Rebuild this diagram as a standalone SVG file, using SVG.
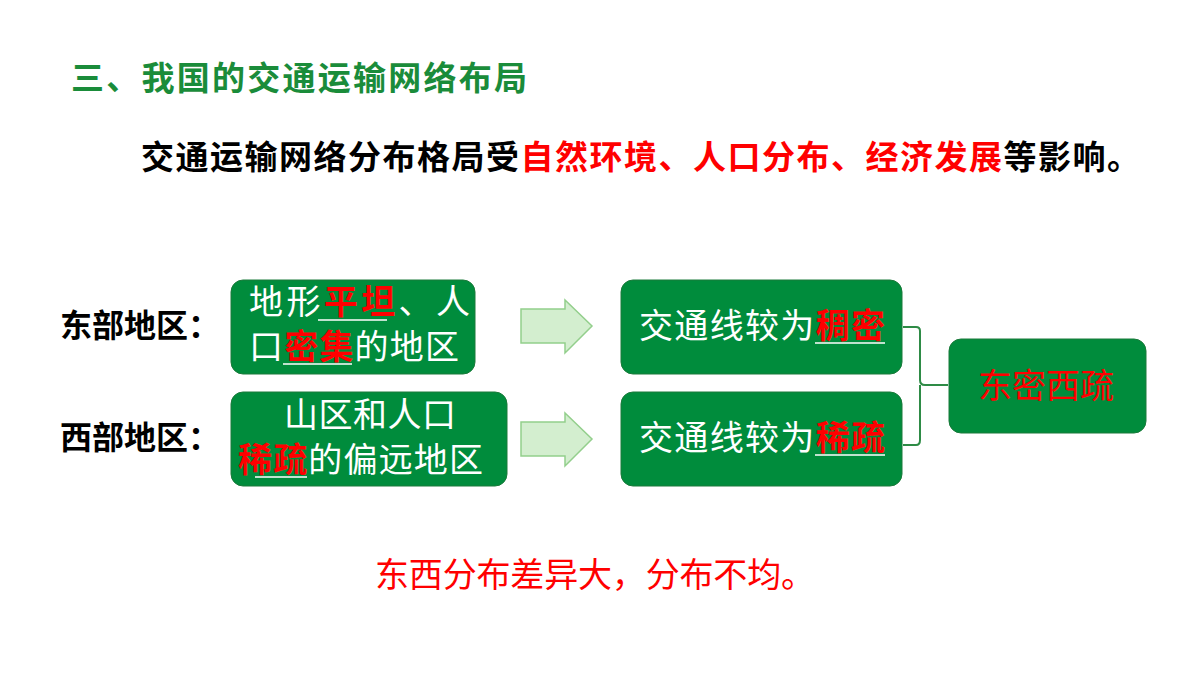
<svg xmlns="http://www.w3.org/2000/svg" width="1200" height="675" viewBox="0 0 1200 675">
<style>
text{font-family:"Noto Sans CJK SC",sans-serif}
.box{fill:#008C3C;stroke:#1a7a3a;stroke-width:1}
.w{fill:#fff;font-size:34px}
.r{fill:#f00}
.b{font-weight:bold}
.k{fill:#000;font-size:32px;font-weight:bold}
.ul{stroke:#fff;stroke-width:1.5}
.arr{fill:#d3eecf;stroke:#93cf8c;stroke-width:1.5}
</style>
<rect width="1200" height="675" fill="#fff"/>
<text x="71" y="90" font-size="33" font-weight="bold" textLength="456" fill="#1a8c3a">三、我国的交通运输网络布局</text>
<text x="141" y="169" font-size="33" font-weight="bold" textLength="999" fill="#000">交通运输网络分布格局受<tspan class="r">自然环境、人口分布、经济发展</tspan>等影响。</text>
<text x="60" y="337" class="k">东部地区：</text>
<text x="60" y="449" class="k">西部地区：</text>
<g id="n1"><rect class="box" x="231" y="280" width="244" height="94" rx="12"/>
<text class="w" x="249" y="314" font-size="32" textLength="221">地形<tspan class="r b">平坦</tspan>、人</text>
<text class="w" x="249" y="359" font-size="32" textLength="210">口<tspan class="r b">密集</tspan>的地区</text>
<line class="ul" x1="318" y1="320" x2="387" y2="320"/><line class="ul" x1="283" y1="364" x2="352" y2="364"/></g>
<g id="n2"><rect class="box" x="231" y="392" width="276" height="94" rx="12"/>
<text class="w" x="284" y="427" font-size="32" textLength="172">山区和人口</text>
<text class="w" x="238" y="472" font-size="32" textLength="245"><tspan class="r b">稀疏</tspan>的偏远地区</text>
<line class="ul" x1="255" y1="477" x2="307" y2="477"/></g>
<g id="n3"><rect class="box" x="621" y="280" width="281" height="94" rx="12"/>
<text class="w" x="639" y="338" textLength="246">交通线较为<tspan class="r b">稠密</tspan></text>
<line class="ul" x1="815" y1="343" x2="885" y2="343"/></g>
<g id="n4"><rect class="box" x="621" y="392" width="281" height="94" rx="12"/>
<text class="w" x="639" y="450" textLength="246">交通线较为<tspan class="r b">稀疏</tspan></text>
<line class="ul" x1="815" y1="455" x2="885" y2="455"/></g>
<g id="n5"><rect class="box" x="949" y="339" width="197" height="94" rx="12"/>
<text x="1046" y="398" font-size="34" fill="#f00" text-anchor="middle">东密西疏</text></g>
<g id="connectors">
<path class="arr" d="M521,309 H565 V300 L592,326 L565,353 V343 H521 Z"/>
<path class="arr" d="M521,422 H565 V413 L592,439 L565,466 V456 H521 Z"/>
<path d="M903,327 H916 Q920,327 920,331 V380 Q920,385 925,385 H948 M920,385 V440 Q920,445 916,445 H903" fill="none" stroke="#2e8b46" stroke-width="2"/>
</g>
<text x="375" y="587" font-size="34" textLength="440" fill="#f00">东西分布差异大，分布不均。</text>
</svg>
